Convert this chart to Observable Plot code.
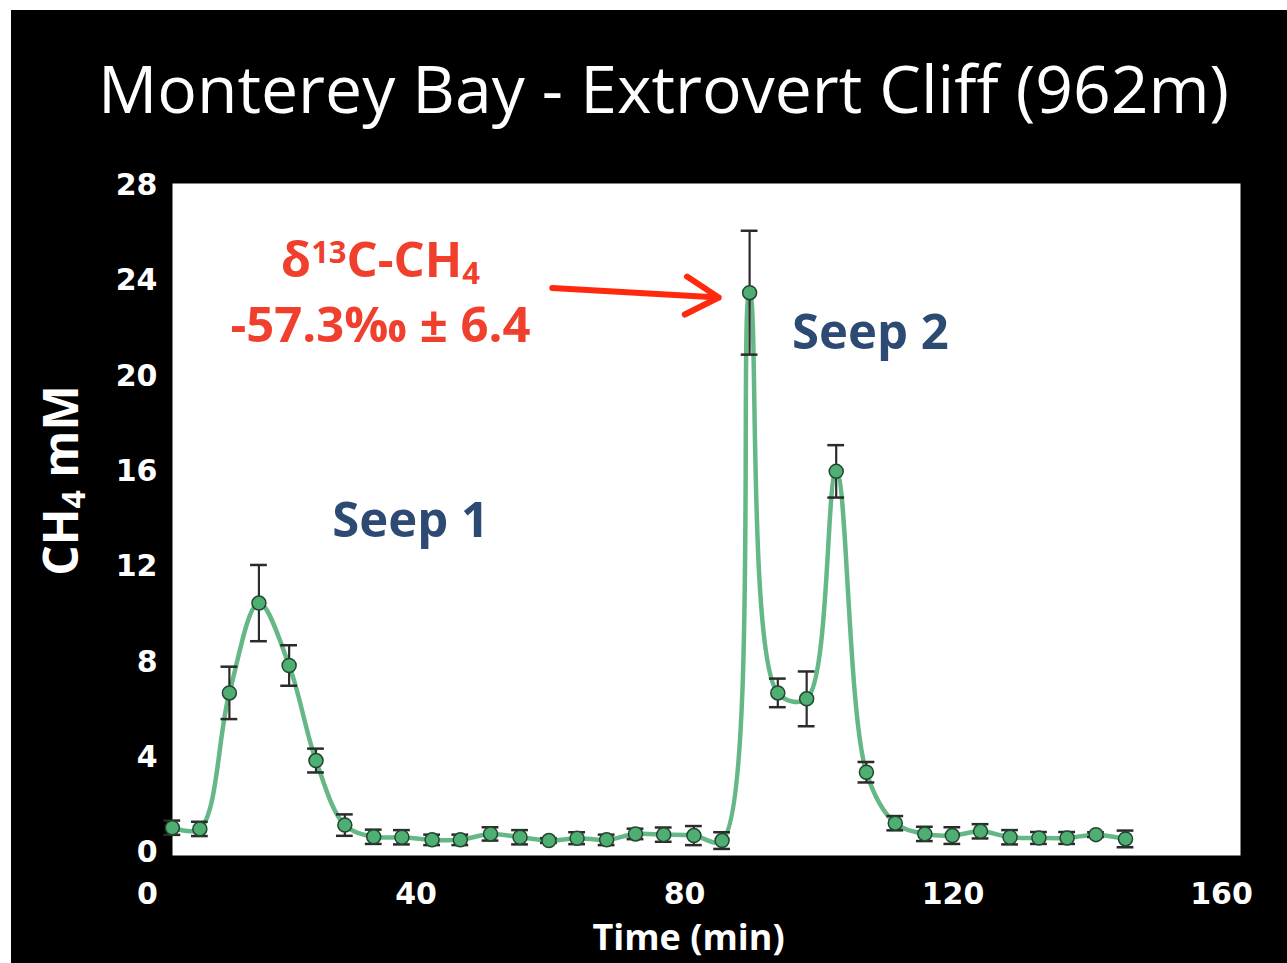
<!DOCTYPE html>
<html>
<head>
<meta charset="utf-8">
<script src="https://cdn.jsdelivr.net/npm/d3@7"></script>
<script src="https://cdn.jsdelivr.net/npm/@observablehq/plot@0.6"></script>
<style>
  html, body { margin: 0; padding: 0; background: #ffffff; overflow: hidden; }
  #wrap { position: absolute; left: 11px; top: 10px; width: 1276px; height: 953px; background: #000; }
  #title { height: 150px; box-sizing: border-box; padding-top: 44px; padding-left: 29px; text-align: center;
           font-family: "Open Sans", sans-serif; font-size: 66px; line-height: 66px; color: #fff; white-space: nowrap; }
  #chart svg { display: block; }
</style>
</head>
<body>
<div id="wrap">
  <div id="title">Monterey Bay - Extrovert Cliff (962m)</div>
  <div id="chart"></div>
</div>
<script>
// Time (min) of each sample
const times = [3.7, 7.8, 12.2, 16.6, 21.1, 25.1, 29.4, 33.7, 37.9, 42.4, 46.6, 51.1, 55.5, 59.8, 64.0, 68.4, 72.7, 76.9, 81.4, 85.6,
               89.7, 93.9, 98.2, 102.6, 107.1, 111.4, 115.8, 119.9, 124.1, 128.5, 132.8, 137.0, 141.3, 145.7];
// CH4 concentration (mM)
const ch4 = [1.04, 0.99, 6.7, 10.47, 7.85, 3.86, 1.15, 0.66, 0.64, 0.53, 0.53, 0.78, 0.64, 0.5, 0.6, 0.53, 0.78, 0.75, 0.71, 0.5,
             23.5, 6.7, 6.45, 16.0, 3.37, 1.23, 0.78, 0.71, 0.89, 0.64, 0.61, 0.61, 0.75, 0.57];
// error (± mM)
const errs = [0.3, 0.3, 1.1, 1.6, 0.85, 0.5, 0.45, 0.3, 0.3, 0.22, 0.22, 0.28, 0.3, 0.1, 0.25, 0.22, 0.22, 0.3, 0.4, 0.35,
              2.6, 0.6, 1.15, 1.1, 0.43, 0.3, 0.3, 0.35, 0.3, 0.3, 0.25, 0.25, 0.1, 0.35];

const xTicks = [0, 40, 80, 120, 160];
const yTicks = [0, 4, 8, 12, 16, 20, 24, 28];

// annotations (data units)
const seepLabels = ["Seep 1", "Seep 2"];
const seepX = [39.2, 107.7];
const seepY = [13.9, 21.8];
const isoLines = ["δ13C-CH4", "-57.3‰ ± 6.4"];
const isoX = [34.7, 34.7];
const isoY = [24.8, 22.1];
const arrowFrom = {x: 60.3, y: 23.7};
const arrowTo = {x: 85.1, y: 23.3};

const data = times.map((t, i) => ({t, v: ch4[i], e: errs[i]}));
const seeps = seepLabels.map((s, i) => ({s, x: seepX[i], y: seepY[i]}));
const iso = isoLines.map((s, i) => ({s, x: isoX[i], y: isoY[i]}));

const capHalf = 1.25;

const plot = Plot.plot({
  width: 1276,
  height: 803,
  marginLeft: 161,
  marginRight: 47,
  marginTop: 23,
  marginBottom: 108,
  style: {background: "transparent", color: "white", fontFamily: "DejaVu Sans", fontWeight: "bold", fontSize: "30px", overflow: "visible"},
  x: {domain: [0, 160], range: [136, 1210]},
  y: {domain: [0, 28], range: [692, 25]},
  marks: [
    Plot.frame({fill: "white", stroke: null}),
    Plot.axisX({ticks: xTicks, tickSize: 0, tickPadding: 27, label: null, fill: "white"}),
    Plot.axisY({ticks: yTicks, tickSize: 0, tickPadding: 15, label: null, fill: "white"}),
    Plot.text(["Time (min)"], {frameAnchor: "bottom", dx: -18, dy: 83, lineAnchor: "middle", textAnchor: "middle", fill: "white",
      fontFamily: "Open Sans", fontWeight: "bold", fontSize: 36}),
    Plot.text(["CH4 mM"], {frameAnchor: "left", rotate: -90, dx: -110, dy: -39, lineAnchor: "middle", textAnchor: "middle", fill: "white",
      fontFamily: "Open Sans", fontWeight: "bold", fontSize: 48}),
    Plot.line(data, {x: "t", y: "v", curve: "catmull-rom", stroke: "#5db47f", strokeWidth: 4.5, strokeOpacity: 0.95}),
    Plot.ruleX(data, {x: "t", y1: d => d.v - d.e, y2: d => d.v + d.e, stroke: "#2b2b2b", strokeWidth: 2.2}),
    Plot.ruleY(data, {y: d => d.v + d.e, x1: d => d.t - capHalf, x2: d => d.t + capHalf, stroke: "#2b2b2b", strokeWidth: 2.5}),
    Plot.ruleY(data, {y: d => d.v - d.e, x1: d => d.t - capHalf, x2: d => d.t + capHalf, stroke: "#2b2b2b", strokeWidth: 2.5}),
    Plot.dot(data, {x: "t", y: "v", r: 7, fill: "#4fae72", stroke: "#22472f", strokeWidth: 1.5}),
    Plot.text(seeps, {x: "x", y: "y", text: "s", fill: "#2d4a73", fontFamily: "Open Sans", fontWeight: "bold", fontSize: 49, lineAnchor: "middle"}),
    Plot.text(iso, {x: "x", y: "y", text: "s", fill: "#f0402d", fontFamily: "Open Sans", fontWeight: "bold", fontSize: 49, lineAnchor: "middle"}),
    Plot.arrow([{}], {x1: () => arrowFrom.x, y1: () => arrowFrom.y, x2: () => arrowTo.x, y2: () => arrowTo.y,
      stroke: "#ff2a0e", strokeWidth: 6, headLength: 9.5})
  ]
});

// rich text: super/subscripts
plot.querySelectorAll("text").forEach(el => {
  const s = el.textContent;
  if (s === "δ13C-CH4") {
    el.innerHTML = 'δ<tspan baseline-shift="14" font-size="31">13</tspan><tspan baseline-shift="0">C-CH</tspan><tspan baseline-shift="-7" font-size="31">4</tspan>';
  } else if (s === "CH4 mM") {
    el.innerHTML = 'CH<tspan baseline-shift="-7" font-size="32">4</tspan><tspan baseline-shift="0"> mM</tspan>';
  }
});

document.getElementById("chart").appendChild(plot);
</script>
</body>
</html>
